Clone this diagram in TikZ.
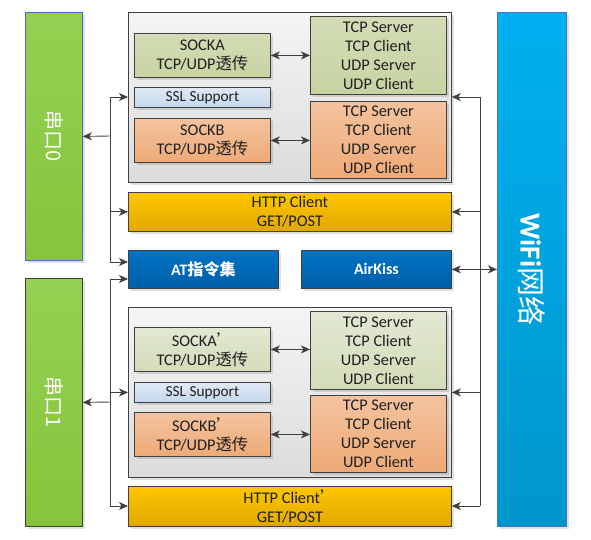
\documentclass[tikz,border=0pt]{standalone}
\usepackage{fontspec}
\setmainfont{Carlito}
\newfontfamily\cjk{Noto Sans CJK SC}
\usetikzlibrary{arrows.meta,shadows}
\definecolor{lineC}{HTML}{404040}
\definecolor{txtC}{HTML}{202020}
\definecolor{portT}{HTML}{94D152}
\definecolor{portB}{HTML}{86C43C}
\definecolor{portBlue}{HTML}{5466BE}
\definecolor{wifiT}{HTML}{00B0F0}
\definecolor{wifiB}{HTML}{0096CC}
\definecolor{wifiL}{HTML}{4A74C0}
\definecolor{grpT}{HTML}{F5F5F5}
\definecolor{grpB}{HTML}{DCDCDC}
\definecolor{grnAT}{HTML}{D3DCB5}
\definecolor{grnAB}{HTML}{C8D3A3}
\definecolor{grnBT}{HTML}{E2E8D3}
\definecolor{grnBB}{HTML}{D3DCB8}
\definecolor{orT}{HTML}{F4C39F}
\definecolor{orB}{HTML}{EEAA77}
\definecolor{sslT}{HTML}{DFE9F4}
\definecolor{sslB}{HTML}{C5D8EC}
\definecolor{httpT}{HTML}{FFC600}
\definecolor{httpB}{HTML}{E0A800}
\definecolor{dbT}{HTML}{0074C4}
\definecolor{dbB}{HTML}{005EA8}
\newcommand\primemark{{\cjk ’}\hspace{7pt}}
\begin{document}
\begin{tikzpicture}[x=1pt,y=-1pt,
  base/.style={rectangle, draw=lineC, line width=0.8pt, inner sep=0pt, anchor=north west,
    align=center, text=txtC, font=\fontsize{16.3}{19}\selectfont,
    drop shadow={shadow xshift=2.5pt, shadow yshift=-2.5pt, fill=black, opacity=0.12}},
  portbox/.style={base, minimum width=57pt, minimum height=248pt, top color=portT, bottom color=portB},
  grpbox/.style={base, minimum width=323pt, minimum height=170pt, top color=grpT, bottom color=grpB},
  sockAup/.style={base, minimum width=136pt, minimum height=44pt, top color=grnAT, bottom color=grnAB},
  sockAlo/.style={base, minimum width=136pt, minimum height=44pt, top color=grnBT, bottom color=grnBB},
  sockB/.style={base, minimum width=136pt, minimum height=44pt, top color=orT, bottom color=orB},
  sslbox/.style={base, minimum width=136pt, minimum height=20pt, top color=sslT, bottom color=sslB, font=\fontsize{15.3}{17}\selectfont},
  protoUp/.style={base, minimum width=136pt, minimum height=78pt, top color=grnAT, bottom color=grnAB},
  protoLo/.style={base, minimum width=136pt, minimum height=78pt, top color=grnBT, bottom color=grnBB},
  protoOr/.style={base, minimum width=136pt, minimum height=77pt, top color=orT, bottom color=orB},
  httpbox/.style={base, minimum width=323pt, minimum height=39pt, top color=httpT, bottom color=httpB},
  bluebox/.style={base, minimum width=150pt, minimum height=38pt, top color=dbT, bottom color=dbB, text=white, font=\fontsize{16}{19}\selectfont\bfseries},
  lbl/.style={text=white, inner sep=0pt},
  conn/.style={draw=lineC, line width=0.9pt},
  arr/.style={conn, -{Stealth[length=9pt, width=8pt, inset=2.5pt]}},
  arr2/.style={conn, {Stealth[length=9pt, width=8pt, inset=2.5pt]}-{Stealth[length=9pt, width=8pt, inset=2.5pt]}}
]
\useasboundingbox (0,0) rectangle (591,539);

% ports and wifi
\node[portbox, draw=portBlue] (p0) at (25,12) {};
\node[portbox] (p1) at (25,278) {};
\node[base, draw=wifiL, minimum width=69pt, minimum height=514pt, top color=wifiT, bottom color=wifiB] (wifi) at (497,12) {};
\node[lbl, rotate=-90, font=\cjk\fontsize{20}{20}\selectfont] (p0t) at (p0.center) {串口0};
\node[lbl, rotate=-90, font=\cjk\fontsize{20}{20}\selectfont] (p1t) at (p1.center) {串口1};
\node[lbl, rotate=-90, font=\fontsize{29}{29}\selectfont] (wifit) at (wifi.center) {\textbf{WiFi}{\cjk 网络}};

% upper group
\node[grpbox] (g1) at (128,12) {};
\node[sockAup] (sa1) at (134,33) {SOCKA\\TCP/UDP{\cjk 透传}};
\node[sslbox] (ssl1) at (134,87) {SSL Support};
\node[sockB] (sb1) at (134,118) {SOCKB\\TCP/UDP{\cjk 透传}};
\node[protoUp] (ra1) at (310,16) {TCP Server\\TCP Client\\UDP Server\\UDP Client};
\node[protoOr] (rb1) at (310,101) {TCP Server\\TCP Client\\UDP Server\\UDP Client};
\node[httpbox] (http1) at (128,192) {HTTP Client\\GET/POST};

% middle
\node[bluebox] (at) at (128,250) {AT{\cjk\bfseries 指令集}};
\node[bluebox] (ak) at (301,250) {AirKiss};

% lower group
\node[grpbox] (g2) at (128,307) {};
\node[sockAlo] (sa2) at (134,327) {SOCKA\primemark\\TCP/UDP{\cjk 透传}};
\node[sslbox] (ssl2) at (134,382) {SSL Support};
\node[sockB] (sb2) at (134,412) {SOCKB\primemark\\TCP/UDP{\cjk 透传}};
\node[protoLo] (ra2) at (310,311) {TCP Server\\TCP Client\\UDP Server\\UDP Client};
\node[protoOr] (rb2) at (310,395) {TCP Server\\TCP Client\\UDP Server\\UDP Client};
\node[httpbox, minimum height=40pt] (http2) at (128,486) {HTTP Client\primemark\\GET/POST};

% inner arrows
\draw[arr2] (sa1.east) -- (ra1.west |- sa1.east);
\draw[arr2] (sb1.east) -- (rb1.west |- sb1.east);
\draw[arr2] (sa2.east) -- (ra2.west |- sa2.east);
\draw[arr2] (sb2.east) -- (rb2.west |- sb2.east);

% left bus 0
\coordinate (b0) at (110,136);
\coordinate (b0t) at (110,97);
\coordinate (b0b) at (110,262);
\draw[conn] (b0t) -- (b0b);
\draw[arr] (b0) -- (p0.east);
\draw[arr] (b0t) -- (g1.west |- b0t);
\draw[arr] (b0t |- http1.west) -- (http1.west);
\draw[arr] (b0b) -- (at.west |- b0b);

% left bus 1
\coordinate (b1) at (110,402);
\coordinate (b1t) at (110,279);
\coordinate (b1b) at (110,506);
\draw[conn] (b1t) -- (b1b);
\draw[arr] (b1) -- (p1.east);
\draw[arr] (b1t) -- (at.west |- b1t);
\draw[arr] (b1 |- ssl2.center) -- (g2.west |- ssl2.center);
\draw[arr] (b1b) -- (http2.west |- b1b);

% right bus
\coordinate (rt) at (480,97);
\coordinate (rb) at (480,506);
\draw[conn] (rt) -- (rb);
\draw[arr] (rt) -- (g1.east |- rt);
\draw[arr] (rt |- http1.east) -- (http1.east);
\draw[arr] (rt |- ssl2.center) -- (g2.east |- ssl2.center);
\draw[arr] (rb) -- (http2.east |- rb);
\draw[arr2] (ak.east) -- (wifi.west |- ak.east);
\end{tikzpicture}
\end{document}
